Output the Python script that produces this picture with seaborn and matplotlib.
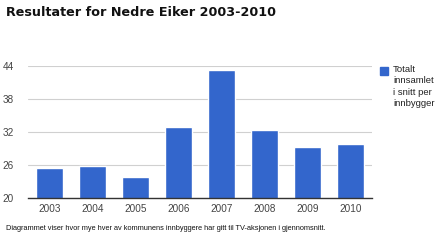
import matplotlib
matplotlib.use("Agg")
import matplotlib.pyplot as plt
import seaborn as sns
import pandas as pd
from matplotlib.patches import Rectangle

years = ["2003", "2004", "2005", "2006", "2007", "2008", "2009", "2010"]
values = [25.5, 25.8, 23.9, 32.85, 43.3, 32.4, 29.3, 29.75]
yticks = [20, 26, 32, 38, 44]
title = "Resultater for Nedre Eiker 2003-2010"
series_label = "Totalt\ninnsamlet\ni snitt per\ninnbygger"
caption = "Diagrammet viser hvor mye hver av kommunens innbyggere har gitt til TV-aksjonen i gjennomsnitt."

sns.set_theme(style="white")
plt.rcParams['font.family'] = ['Liberation Sans', 'DejaVu Sans']

df = pd.DataFrame({"year": years, "value": values})

fig = plt.figure(figsize=(4.4, 2.4), dpi=100)
ax = fig.add_axes([28/440, 1-198/240, 344/440, 132/240])

sns.barplot(data=df, x="year", y="value", color="#3366CC", width=0.62,
            saturation=1, ax=ax, zorder=3)

ax.set_ylim(20, 44)
ax.set_xlim(-0.5, 7.5)
ax.set_yticks(yticks)
ax.set_yticklabels([str(t) for t in yticks])
ax.set_xlabel("")
ax.set_ylabel("")
for s in ["top", "right", "left"]:
    ax.spines[s].set_visible(False)
ax.spines["bottom"].set_color("#333333")
ax.spines["bottom"].set_linewidth(1)
ax.spines["bottom"].set_zorder(4)
ax.yaxis.grid(True, color="#d0d0d0", linewidth=0.8, zorder=0)
ax.set_axisbelow(True)
ax.tick_params(axis="both", length=0, labelsize=7.2, labelcolor="#444444")
ax.tick_params(axis="y", pad=10)
ax.tick_params(axis="x", pad=4)

fig.text(6/440, 1-13/240, title, fontsize=9.2, fontweight="bold",
         family=["DejaVu Sans"], color="#111111", va="center", ha="left")

# legend
fig.patches.append(Rectangle((380/440, 1-75/240), 8/440, 8/240,
                             transform=fig.transFigure, color="#3366CC"))
fig.text(393/440, 1-65/240, series_label, fontsize=6.8, color="#222222",
         va="top", ha="left", linespacing=1.35)

fig.text(6/440, 1-228/240, caption, fontsize=5.35, color="#111111",
         va="center", ha="left")

fig.savefig("out.png", dpi=100)
